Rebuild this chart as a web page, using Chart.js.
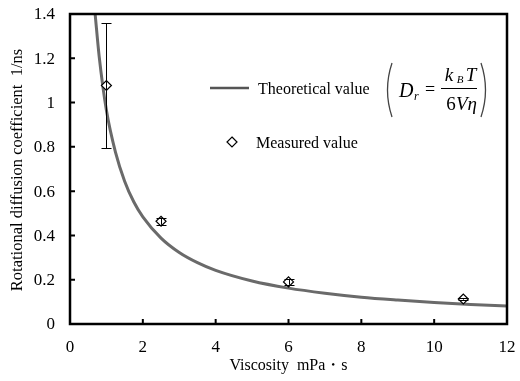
<!DOCTYPE html>
<html>
<head>
<meta charset="utf-8">
<script src="https://cdn.jsdelivr.net/npm/chart.js@4.4.1/dist/chart.umd.min.js"></script>
<style>
  html, body { margin: 0; padding: 0; background: #fff; }
  #wrap { width: 520px; height: 381px; position: relative; }
</style>
</head>
<body>
<div id="wrap"><canvas id="myChart" width="520" height="381"></canvas></div>
<script>
// theoretical curve
const theoX = [0.69, 0.8, 1, 1.25, 1.5, 1.75, 2, 2.5, 3, 3.5, 4, 5, 6, 7, 8, 9, 10, 11, 12]
const theoY = [1.4, 1.21, 0.965, 0.775, 0.645, 0.552, 0.484, 0.388, 0.323, 0.277, 0.242, 0.194, 0.162, 0.139, 0.121, 0.108, 0.097, 0.088, 0.081]

// measured points with error bars
const measX = [1, 2.5, 6, 10.8]
const measY = [1.077, 0.464, 0.19, 0.113]
const errLow = [0.793, 0.448, 0.177, 0.11]
const errHigh = [1.359, 0.48, 0.201, 0.116]

const xTicks = [0, 2, 4, 6, 8, 10, 12]
const yTicks = [0, 0.2, 0.4, 0.6, 0.8, 1, 1.2, 1.4]
const yTickLabels = ['0', '0.2', '0.4', '0.6', '0.8', '1', '1.2', '1.4']

const serif = '"Liberation Serif", "DejaVu Serif", serif'

function paren(c, x, top, bot, dir) {
    // dir -1 = left paren, +1 = right paren
    const mid = (top + bot) / 2
    c.beginPath()
    c.moveTo(x, top)
    c.quadraticCurveTo(x + dir * 9, mid, x, bot)
    c.stroke()
}

const boxPlugin = {
    id: 'box',
    afterDatasetsDraw(chart) {
        const c = chart.ctx
        const a = chart.chartArea
        const xs = chart.scales.x
        const ys = chart.scales.y
        c.save()
        // error bars
        c.strokeStyle = '#000'
        c.lineWidth = 1
        for (let i = 0; i < measX.length; i++) {
            const px = Math.round(xs.getPixelForValue(measX[i])) + 0.5
            const y1 = ys.getPixelForValue(errLow[i])
            const y2 = ys.getPixelForValue(errHigh[i])
            c.beginPath()
            c.moveTo(px, y1); c.lineTo(px, y2)
            c.moveTo(px - 5, Math.round(y1) + 0.5); c.lineTo(px + 5, Math.round(y1) + 0.5)
            c.moveTo(px - 5, Math.round(y2) + 0.5); c.lineTo(px + 5, Math.round(y2) + 0.5)
            c.stroke()
        }
        // frame
        c.lineWidth = 2.5
        c.strokeRect(a.left, a.top, a.right - a.left, a.bottom - a.top)
        // inward ticks
        c.lineWidth = 2
        c.beginPath()
        for (const v of yTicks) {
            const py = ys.getPixelForValue(v)
            c.moveTo(a.left, py); c.lineTo(a.left + 5, py)
        }
        for (const v of xTicks) {
            const px = xs.getPixelForValue(v)
            c.moveTo(px, a.bottom); c.lineTo(px, a.bottom - 5)
        }
        c.stroke()

        // tick labels
        c.fillStyle = '#000'
        c.font = '17px ' + serif
        c.textBaseline = 'middle'
        c.textAlign = 'right'
        yTicks.forEach((v, i) => c.fillText(yTickLabels[i], a.left - 15, ys.getPixelForValue(v) + 1))
        c.textAlign = 'center'
        xTicks.forEach((v) => c.fillText(String(v), xs.getPixelForValue(v), a.bottom + 24))

        // y title
        c.save()
        c.translate(18, 170)
        c.rotate(-Math.PI / 2)
        c.font = '16.5px ' + serif
        c.fillText('Rotational diffusion coefficient  1/ns', 0, 0)
        c.restore()

        // legend
        c.strokeStyle = '#555'
        c.lineWidth = 2.5
        c.beginPath(); c.moveTo(210, 88); c.lineTo(249, 88); c.stroke()
        c.font = '16px ' + serif
        c.textAlign = 'left'
        c.fillText('Theoretical value', 258, 90)
        c.fillText('Measured value', 256, 144)
        // diamond
        c.strokeStyle = '#000'
        c.lineWidth = 1.2
        c.beginPath()
        c.moveTo(232, 137); c.lineTo(237, 142); c.lineTo(232, 147); c.lineTo(227, 142); c.closePath()
        c.stroke()
        // formula
        c.strokeStyle = '#444'
        c.lineWidth = 1.3
        paren(c, 392, 63, 117, -1)
        paren(c, 481, 63, 117, 1)
        c.fillStyle = '#000'
        c.font = 'italic 20px ' + serif
        c.fillText('D', 399, 92)
        c.font = 'italic 12px ' + serif
        c.fillText('r', 414, 97)
        c.font = '18px ' + serif
        c.fillText('=', 425, 90)
        c.textAlign = 'center'
        c.font = 'italic 19px ' + serif
        c.fillText('k', 449, 76)
        c.font = 'italic 11px ' + serif
        c.fillText('B', 460, 80)
        c.font = 'italic 19px ' + serif
        c.fillText('T', 471, 76)
        c.font = '19px ' + serif
        c.fillText('6', 451, 105)
        c.font = 'italic 19px ' + serif
        c.textAlign = 'left'
        c.fillText('V\u03b7', 456, 105)
        c.lineWidth = 1
        c.strokeStyle = '#000'
        c.beginPath(); c.moveTo(441, 88.5); c.lineTo(477, 88.5); c.stroke()
        c.restore()
    }
}

const ctx = document.getElementById('myChart')

theChart = new Chart(ctx, {
    type: 'scatter',
    data: {
        datasets: [{
            label: 'Theoretical value',
            data: theoX.map((x, i) => ({x: x, y: theoY[i]})),
            showLine: true,
            borderColor: '#6a6a6a',
            borderWidth: 3,
            pointRadius: 0,
            cubicInterpolationMode: 'monotone',
            clip: {left: 0, top: 0, right: 0, bottom: 0},
            order: 2
        },
        {
            label: 'Measured value',
            data: measX.map((x, i) => ({x: x, y: measY[i]})),
            pointStyle: 'rectRot',
            pointRadius: 5,
            pointBackgroundColor: '#fff',
            pointBorderColor: '#000',
            pointBorderWidth: 1.2,
            order: 1
        }]
    },
    options: {
        responsive: false,
        animation: false,
        layout: { padding: { top: 14, right: 13, left: 0, bottom: 0 } },
        plugins: { legend: { display: false }, tooltip: { enabled: false } },
        scales: {
            x: {
                type: 'linear',
                min: 0, max: 12,
                afterBuildTicks: (s) => { s.ticks = xTicks.map(v => ({value: v})) },
                afterFit: (s) => { s.height = 57 },
                grid: { display: false },
                border: { display: false },
                ticks: { display: false },
                title: { display: true, text: 'Viscosity  mPa\u30fbs', color: '#000', font: { family: serif, size: 16 }, padding: { top: 4, bottom: 6 } }
            },
            y: {
                min: 0, max: 1.4,
                afterBuildTicks: (s) => { s.ticks = yTicks.map(v => ({value: v})) },
                afterFit: (s) => { s.width = 70 },
                grid: { display: false },
                border: { display: false },
                ticks: { display: false },
                title: { display: false }
            }
        }
    },
    plugins: [boxPlugin]
})
</script>
</body>
</html>
